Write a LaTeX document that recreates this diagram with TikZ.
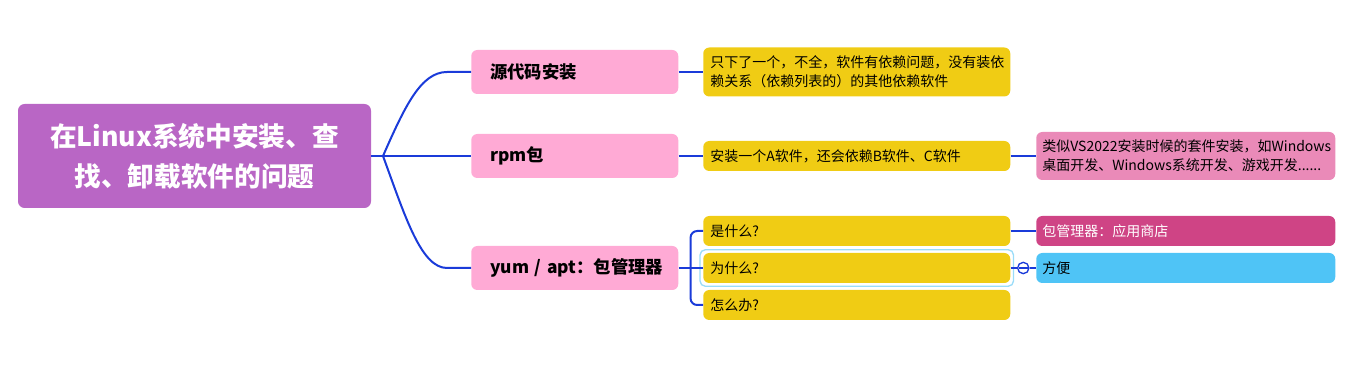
\documentclass[tikz,border=0pt]{standalone}
\usepackage{fontspec}
\setmainfont{Noto Sans CJK SC}
\usetikzlibrary{calc}

\definecolor{rootpurple}{HTML}{B966C5}
\definecolor{topicpink}{HTML}{FFAAD5}
\definecolor{leafyellow}{HTML}{F0CC14}
\definecolor{notepink}{HTML}{EA8AB8}
\definecolor{storepink}{HTML}{CF4485}
\definecolor{easycyan}{HTML}{4FC4F6}
\definecolor{linkblue}{HTML}{1A3BD9}
\definecolor{selblue}{HTML}{9ADCF8}

\begin{document}
\begin{tikzpicture}[x=0.75pt,y=-0.75pt,
  root/.style={fill=rootpurple,rounded corners=5pt,text=white,
    font=\fontsize{20}{30}\selectfont\bfseries,align=center,
    minimum width=264.75pt,minimum height=78pt},
  topic/.style={fill=topicpink,rounded corners=4.5pt,anchor=west,
    font=\fontsize{13}{16}\selectfont\bfseries,align=left,
    text width=126.75pt,inner xsep=14.25pt,minimum height=33pt},
  leaf/.style={fill=leafyellow,rounded corners=4.5pt,anchor=west,
    font=\fontsize{10.5}{14}\selectfont,align=left,
    text width=219.75pt,inner xsep=5.25pt,inner ysep=0pt,minimum height=22.5pt},
  note/.style={leaf,text width=215.25pt,inner xsep=4.5pt},
  link/.style={draw=linkblue,line width=1.5pt}]
\useasboundingbox (0,0) rectangle (1365,370);

% root and main topics
\node[root] (root) at (194.5,156) {在Linux系统中安装、查\\找、卸载软件的问题};
\coordinate (j) at (383,156);
\node[topic] (src) at (471,72) {源代码安装};
\node[topic] (rpm) at (471,156) {rpm包};
\node[topic] (yum) at (471,268) {\mbox{yum / apt：包管理器}};

% second level
\node[leaf,minimum height=36.75pt] (dep) at (703,72) {只下了一个，不全，软件有依赖问题，没有装依\\赖关系（依赖列表的）的其他依赖软件};
\node[leaf] (abc) at (703,156) {安装一个A软件，还会依赖B软件、C软件};
\node[leaf] (what) at (703,231) {是什么?};
\node[leaf] (why) at (703,268) {为什么?};
\node[leaf] (how) at (703,305) {怎么办?};
\draw[selblue,line width=1pt,rounded corners=4pt]
  ($(why.south west)+(-3,3)$) rectangle ($(why.north east)+(3,-3)$);

% third level
\node[note,fill=notepink,minimum height=36pt] (suite) at (1036,156) {类似VS2022安装时候的套件安装，如Windows\\桌面开发、Windows系统开发、游戏开发......};
\node[note,fill=storepink,text=white] (store) at (1036,231) {包管理器：应用商店};
\node[note,fill=easycyan] (easy) at (1036,268) {方便};

% connectors
\draw[link] (root.east) -- (j) -- (rpm.west);
\draw[link] (j) .. controls ($(j)+(22,-50)$) and ($(src.west)+(-50,0)$) .. ($(src.west)+(-24,0)$) -- (src.west);
\draw[link] (j) .. controls ($(j)+(22,60)$) and ($(yum.west)+(-50,0)$) .. ($(yum.west)+(-24,0)$) -- (yum.west);
\draw[link] (src.east) -- (dep.west);
\draw[link] (rpm.east) -- (abc.west);
\draw[link] (abc.east) -- (suite.west);
\coordinate (ybar) at ($(yum.east)+(12,0)$);
\draw[link] (yum.east) -- (why.west);
\draw[link,rounded corners=5pt] (ybar) |- (what.west);
\draw[link,rounded corners=5pt] (ybar) |- (how.west);
\draw[link] (what.east) -- (store.west);
\node[circle,draw=linkblue,fill=white,line width=1pt,minimum size=8.5pt,inner sep=0pt]
  (fold) at ($(why.east)!0.5!(easy.west)$) {};
\draw[link] (why.east) -- (fold.west);
\draw[link] (fold.east) -- (easy.west);
\draw[linkblue,line width=1pt] ($(fold.west)+(2,0)$) -- ($(fold.east)+(-2,0)$);
\end{tikzpicture}
\end{document}
